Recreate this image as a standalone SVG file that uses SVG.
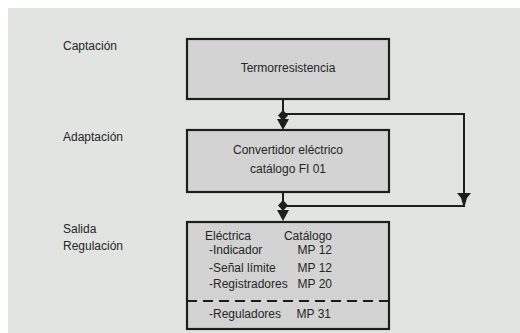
<svg xmlns="http://www.w3.org/2000/svg" width="520" height="333" viewBox="0 0 520 333">
  <style>
    .box { fill: #d2d3d2; stroke: #1e1e1e; stroke-width: 2.2; }
    .wire { fill: none; stroke: #1e1e1e; stroke-width: 2; }
    .head { fill: #1e1e1e; stroke: none; }
    text { font-family: "Liberation Sans", Arial, sans-serif; font-size: 12px; fill: #262626; }
    .c { text-anchor: middle; }
    .r { text-anchor: end; }
  </style>
  <rect x="0" y="0" width="520" height="333" fill="#ffffff"/>
  <rect x="8" y="8" width="512" height="325" fill="#e2e4e2"/>

  <!-- stage labels -->
  <g id="labels">
    <text x="63" y="50">Captación</text>
    <text x="63" y="141">Adaptación</text>
    <text x="63" y="233">Salida</text>
    <text x="63" y="250">Regulación</text>
  </g>

  <g id="sensor">
    <rect class="box" x="187" y="39" width="202" height="60"/>
    <text class="c" x="288" y="72">Termorresistencia</text>
  </g>

  <g id="converter">
    <rect class="box" x="187" y="130" width="202" height="62"/>
    <text class="c" x="288" y="154">Convertidor eléctrico</text>
    <text class="c" x="288" y="173">catálogo FI 01</text>
  </g>

  <g id="output">
    <rect class="box" x="187" y="222" width="202" height="107"/>
    <text x="205" y="240">Eléctrica</text>
    <text class="r" x="332" y="240">Catálogo</text>
    <text x="209" y="254">-Indicador</text>
    <text class="r" x="332" y="254">MP 12</text>
    <text x="209" y="272">-Señal límite</text>
    <text class="r" x="332" y="272">MP 12</text>
    <text x="209" y="288">-Registradores</text>
    <text class="r" x="332" y="288">MP 20</text>
    <line x1="187" y1="301" x2="389" y2="301" stroke="#1e1e1e" stroke-width="2" stroke-dasharray="10 6"/>
    <text x="209" y="318">-Reguladores</text>
    <text class="r" x="331" y="318">MP 31</text>
  </g>

  <g id="connectors">
    <!-- sensor to converter, with bypass loop -->
    <line class="wire" x1="283" y1="99" x2="283" y2="122"/>
    <polyline class="wire" points="283,114 464,114 464,206 283,206"/>
    <polygon class="head" points="283,110 288,115.5 283,121 278,115.5"/>
    <polygon class="head" points="277,119 289,119 283,130"/>
    <!-- converter to output -->
    <line class="wire" x1="283" y1="192" x2="283" y2="214"/>
    <polygon class="head" points="283,200 288,205.5 283,211 278,205.5"/>
    <polygon class="head" points="277,210 289,210 283,221"/>
    <!-- bypass arrow -->
    <polygon class="head" points="457,193 471,193 467,198 465,205 463,205 461,198"/>
  </g>
</svg>
